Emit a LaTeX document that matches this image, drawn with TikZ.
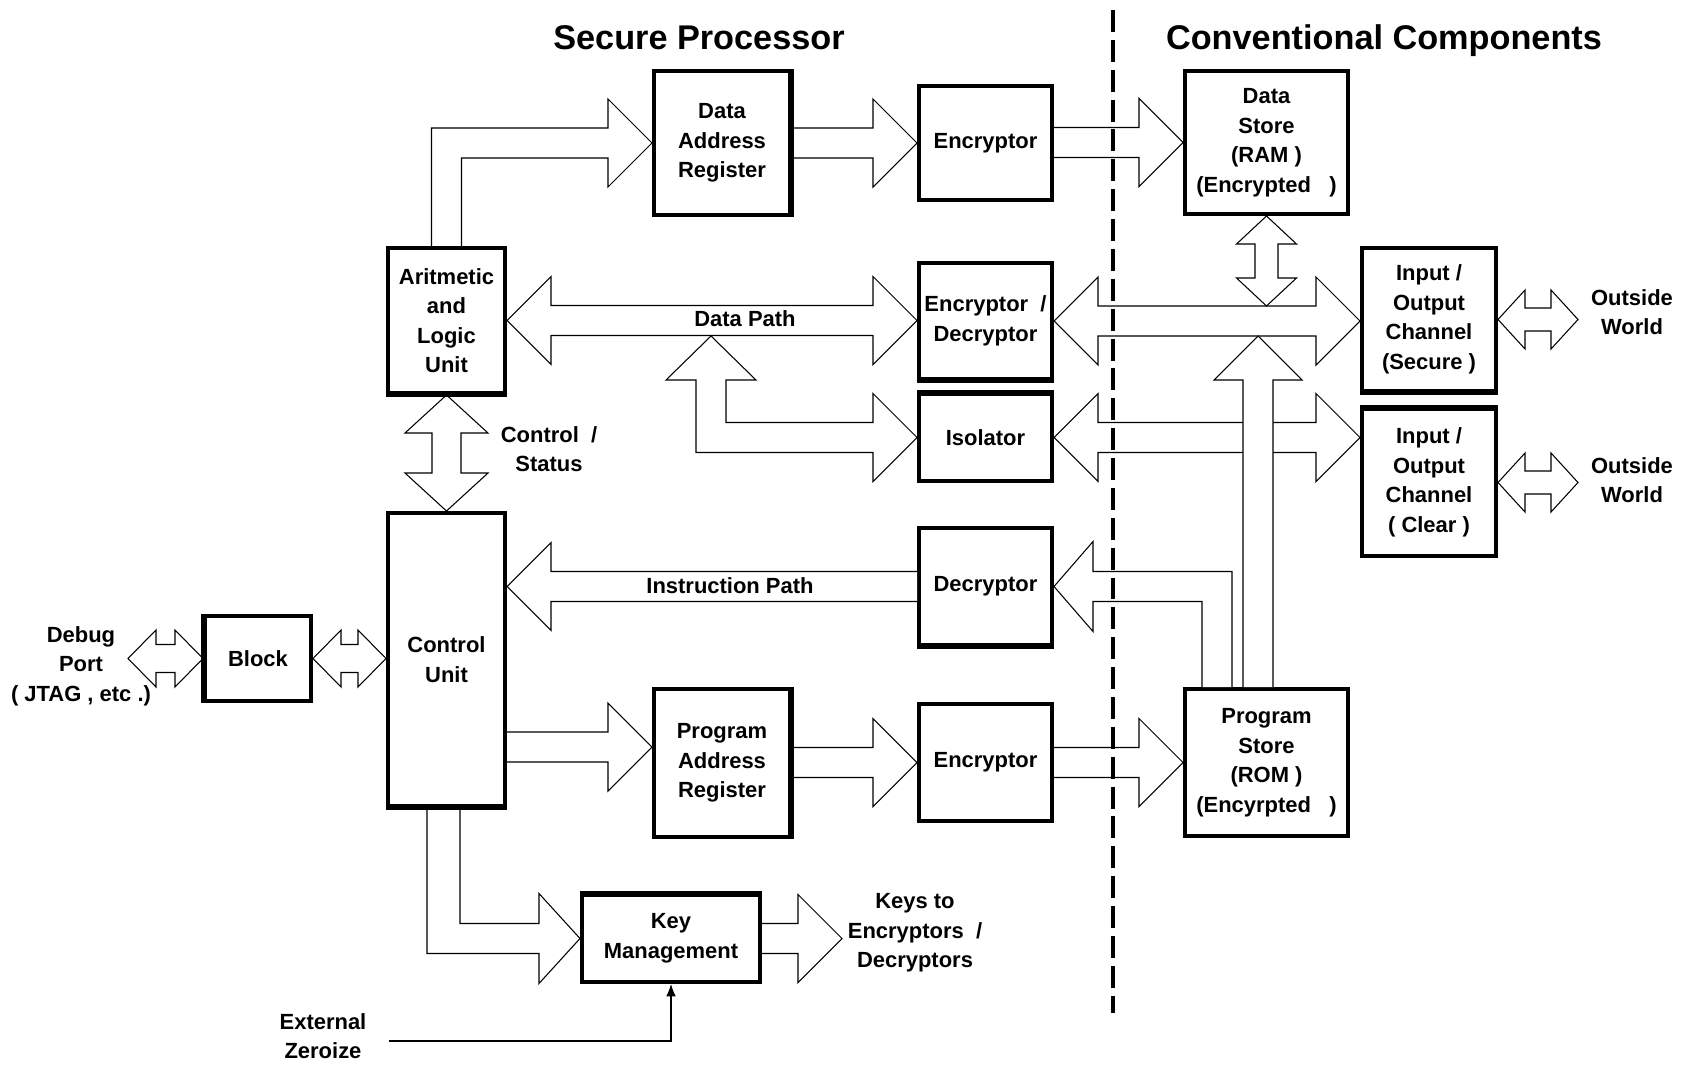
\documentclass[tikz,border=0pt]{standalone}
\usepackage{fontspec}
\setmainfont{Liberation Sans}
\usetikzlibrary{
    calc,
    arrows.meta
}

\newcommand{\arrowsize}[3]{\def\ashaft{#1}\def\ahead{#2}\def\alen{#3}}
\newcommand{\fatR}[2]{
    \draw[fat] ($(#1|-#2)+(0,-\ashaft)$) -- ($(#2)+(-\alen,-\ashaft)$) -- ($(#2)+(-\alen,-\ahead)$)
    -- (#2) -- ($(#2)+(-\alen,\ahead)$) -- ($(#2)+(-\alen,\ashaft)$) -- ($(#1|-#2)+(0,\ashaft)$);
}
\newcommand{\fatL}[2]{
    \draw[fat] ($(#1|-#2)+(0,-\ashaft)$) -- ($(#2)+(\alen,-\ashaft)$) -- ($(#2)+(\alen,-\ahead)$)
    -- (#2) -- ($(#2)+(\alen,\ahead)$) -- ($(#2)+(\alen,\ashaft)$) -- ($(#1|-#2)+(0,\ashaft)$);
}
\newcommand{\fatU}[2]{
    \draw[fat] ($(#2|-#1)+(-\ashaft,0)$) -- ($(#2)+(-\ashaft,\alen)$) -- ($(#2)+(-\ahead,\alen)$)
    -- (#2) -- ($(#2)+(\ahead,\alen)$) -- ($(#2)+(\ashaft,\alen)$) -- ($(#2|-#1)+(\ashaft,0)$);
}
\newcommand{\fatLR}[2]{
    \draw[fat] (#1) -- ($(#1)+(\alen,-\ahead)$) -- ($(#1)+(\alen,-\ashaft)$)
    -- ($(#2|-#1)+(-\alen,-\ashaft)$) -- ($(#2|-#1)+(-\alen,-\ahead)$) -- (#2|-#1)
    -- ($(#2|-#1)+(-\alen,\ahead)$) -- ($(#2|-#1)+(-\alen,\ashaft)$)
    -- ($(#1)+(\alen,\ashaft)$) -- ($(#1)+(\alen,\ahead)$) -- cycle;
}
\newcommand{\fatUD}[2]{
    \draw[fat] (#1) -- ($(#1)+(-\ahead,\alen)$) -- ($(#1)+(-\ashaft,\alen)$)
    -- ($(#1|-#2)+(-\ashaft,-\alen)$) -- ($(#1|-#2)+(-\ahead,-\alen)$) -- (#1|-#2)
    -- ($(#1|-#2)+(\ahead,-\alen)$) -- ($(#1|-#2)+(\ashaft,-\alen)$)
    -- ($(#1)+(\ashaft,\alen)$) -- ($(#1)+(\ahead,\alen)$) -- cycle;
}

\tikzset{
    box/.style={draw, line width=2.3pt, fill=white, inner sep=0pt, align=center,
        font=\fontsize{12.5}{16.8}\selectfont\bfseries},
    lbl/.style={inner sep=0pt, align=center, font=\fontsize{12.5}{16.8}\selectfont\bfseries},
    heading/.style={inner sep=0pt, anchor=base, font=\fontsize{19.5}{22}\selectfont\bfseries},
    fat/.style={draw, fill=white, line width=0.6pt, line join=miter},
    edgeshadow/.style={line width=2pt},
    divider/.style={line width=2.3pt, dash pattern=on 12.5pt off 4.5pt},
    zap/.style={line width=0.6pt, -{Latex[length=7pt,width=5.5pt]}}
}

\begin{document}
\begin{tikzpicture}[x=0.02cm, y=-0.02cm]
                            \useasboundingbox (0,0) rectangle (1684,1065);
                            \node[box, minimum width=2.72cm, minimum height=2.88cm] (dar) at (722,143) {Data\\Address\\Register};
                            \node[box, minimum width=2.66cm, minimum height=2.28cm] (encA) at (985.5,143) {Encryptor};
                            \node[box, minimum width=3.26cm, minimum height=2.86cm] (ram) at (1266.5,142.5) {Data\\Store\\(RAM\ )\\(Encrypted\ \ \ )};
                            \node[box, minimum width=2.34cm, minimum height=2.90cm] (alu) at (446.5,320.5) {Aritmetic\\and\\Logic\\Unit};
                            \node[box, minimum width=2.66cm, minimum height=2.32cm] (encdec) at (985.5,321) {Encryptor\ \ /\\Decryptor};
                            \node[box, minimum width=2.66cm, minimum height=1.74cm] (iso) at (985.5,437.5) {Isolator};
                            \node[box, minimum width=2.68cm, minimum height=2.86cm] (iosec) at (1429,319.5) {Input /\\Output\\Channel\\(Secure )};
                            \node[box, minimum width=2.68cm, minimum height=2.94cm] (ioclr) at (1429,482.5) {Input /\\Output\\Channel\\( Clear )};
                            \node[box, minimum width=2.34cm, minimum height=5.86cm] (cu) at (446.5,659.5) {Control\\Unit};
                            \node[box, minimum width=2.66cm, minimum height=2.34cm] (dec) at (985.5,586.5) {Decryptor};
                            \node[box, minimum width=2.72cm, minimum height=2.96cm] (par) at (722,763) {Program\\Address\\Register};
                            \node[box, minimum width=2.66cm, minimum height=2.34cm] (encB) at (985.5,762.5) {Encryptor};
                            \node[box, minimum width=3.26cm, minimum height=2.94cm] (rom) at (1266.5,762.5) {Program\\Store\\(ROM )\\(Encyrpted\ \ \ )};
                            \node[box, minimum width=2.12cm, minimum height=1.70cm] (block) at (258,658.5) {Block};
                            \node[box, minimum width=3.56cm, minimum height=1.74cm] (km) at (671,938.5) {Key\\Management};

                            \coordinate (cuin) at (cu.east |- dec.west);
                            \coordinate (parin) at ($(par.west)+(0,-16)$);
                            \coordinate (keyout) at ($(km.east)+(80,0)$);
                            \coordinate (ramtap) at ($(ram.south |- encdec.east)+(0,-15)$);
                            \coordinate (romtap) at ($(rom.north |- encdec.east)+(-8.5,15)$);
                            \coordinate (dptap) at (711,336);
                            \coordinate (dbg) at ($(block.west)+(-75,0)$);
                            \coordinate (world1) at ($(iosec.east)+(80,0)$);
                            \coordinate (world2) at ($(ioclr.east)+(80,0)$);

                            \arrowsize{15}{44}{44}
                            \draw[fat] ($(alu.north)+(-15,0)$) |- ($(dar.west)+(-44,-15)$) -- ++(0,-29) -- (dar.west) -- ++(-44,44) -- ++(0,-29) -| ($(alu.north)+(15,0)$);
                            \fatR{dar.east}{encA.west}
                            \fatR{encA.east}{ram.west}
                            \fatLR{alu.east}{encdec.west}
                            \fatLR{encdec.east}{iosec.west}
                            \draw[fat] (dptap) -- ++(45,44) -- ++(-30,0) |- ($(iso.west)+(-44,-15)$) -- ++(0,-29) -- (iso.west) -- ++(-44,44) -- ++(0,-29) -| ($(dptap)+(-15,44)$) -- ++(-30,0) -- cycle;
                            \fatLR{iso.east}{ioclr.west}
                            \fatU{rom.north}{romtap}
                            \fatL{dec.west}{cuin}
                            \draw[fat] ($(rom.north)+(-34.5,0)$) |- ($(dec.east)+(39,-15)$) -- ++(0,-30) -- (dec.east) -- ++(39,45) -- ++(0,-30) -| ($(rom.north)+(-64.5,0)$);
                            \fatR{cu.east}{parin}
                            \fatR{par.east}{encB.west}
                            \fatR{encB.east}{rom.west}
                            \draw[fat] ($(cu.south)+(13.5,0)$) |- ($(km.west)+(-41,-15)$) -- ++(0,-30) -- (km.west) -- ++(-41,45) -- ++(0,-30) -| ($(cu.south)+(-19.5,0)$);
                            \fatR{km.east}{keyout}
                            \arrowsize{14.5}{41.5}{38}
                            \fatUD{alu.south}{cu.north}
                            \arrowsize{11.5}{30}{28}
                            \fatUD{ram.south}{ramtap}
                            \arrowsize{14}{28.5}{28}
                            \fatLR{dbg}{block.west}
                            \fatLR{block.east}{cu.west}
                            \arrowsize{11.5}{29.5}{27}
                            \fatLR{iosec.east}{world1}
                            \fatLR{ioclr.east}{world2}

                            \foreach \n/\a/\b in {alu/south west/south east, encdec/south west/south east,
                                dec/south west/south east, cu/south west/south east, iosec/south west/south east,
                                iso/north west/north east, ioclr/north west/north east, km/north west/north east,
                                dar/north east/south east, par/north east/south east, block/north west/south west}
                                \draw[edgeshadow] (\n.\a) -- (\n.\b);

                            \draw[divider] (1113,10) -- (1113,1013);

                            \node[heading] (secure) at (699,49) {Secure Processor};
                            \node[heading] (conventional) at (1384,49) {Conventional Components};
                            \node[lbl] (dpath) at (745,319) {Data Path};
                            \node[lbl] (ipath) at (730,586) {Instruction Path};
                            \node[lbl] (ctrl) at (549,449) {Control\ \ /\\Status};
                            \node[lbl] (debug) at (81,666) {Debug\\Port\\( JTAG , etc .)};
                            \node[lbl] (outside1) at (1632,312) {Outside\\World};
                            \node[lbl] (outside2) at (1632,480) {Outside\\World};
                            \node[lbl] (keys) at (915,933) {Keys to\\Encryptors\ \ /\\Decryptors};
                            \node[lbl] (zeroize) at (323,1036) {External\\Zeroize};
                            \draw[zap] ([xshift=0.44cm, yshift=-0.1cm]zeroize.east) -| (km.south);
                        \end{tikzpicture}
\end{document}
